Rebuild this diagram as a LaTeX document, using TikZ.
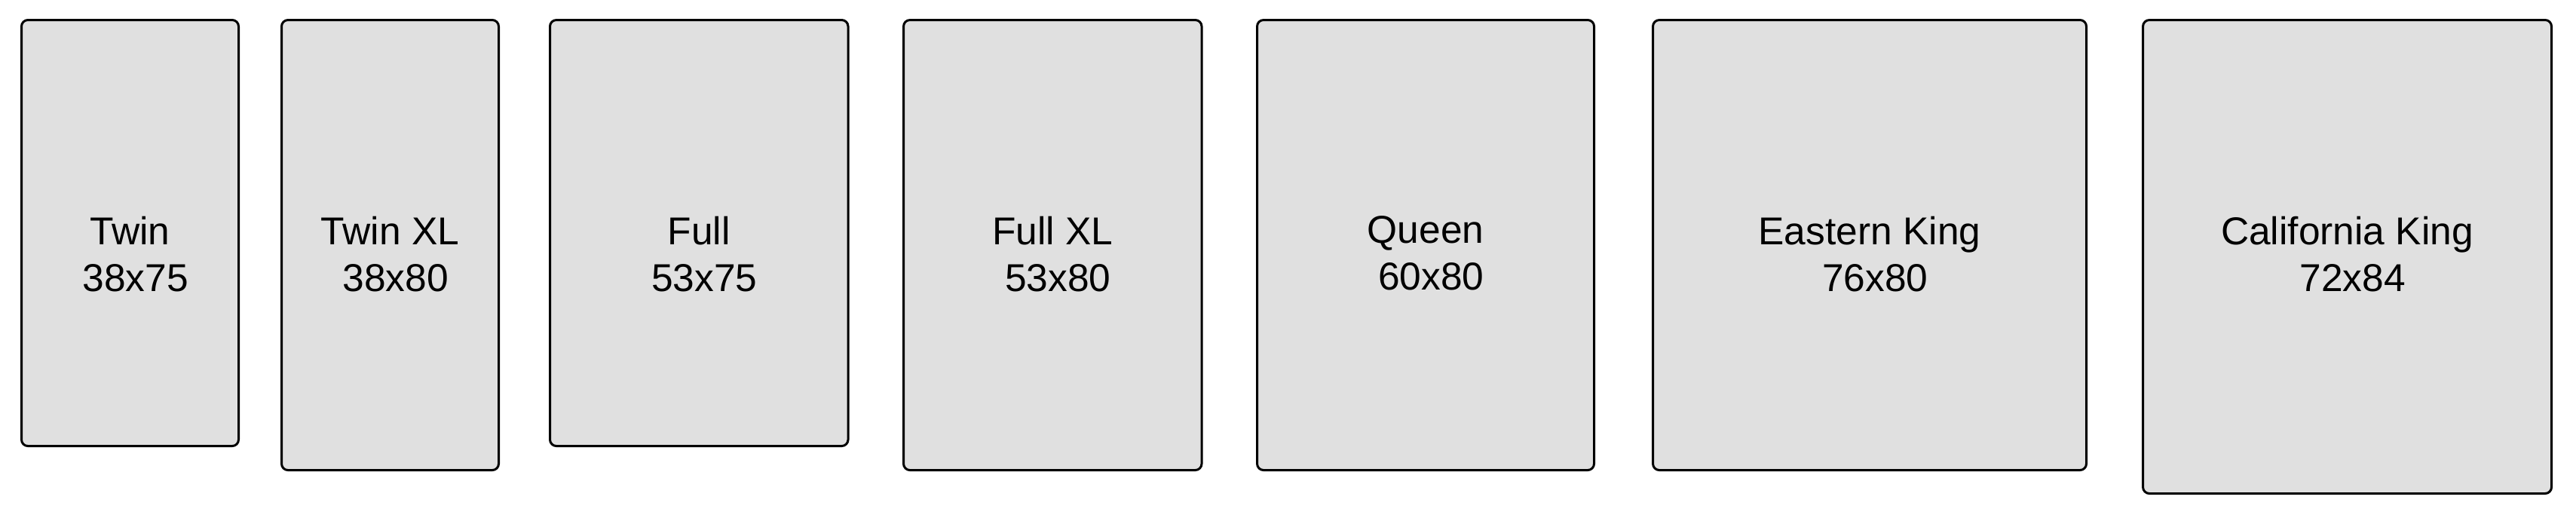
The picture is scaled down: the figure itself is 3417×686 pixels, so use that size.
\documentclass[tikz,border=0pt]{standalone}
\usepackage{fontspec}
\setmainfont{Liberation Sans}
\usetikzlibrary{positioning}
\definecolor{bedgray}{HTML}{E0E0E0}
\tikzset{bed/.style={draw, fill = bedgray, line width = 0.6pt, rounded corners = 1.7pt, anchor = north west}}
\tikzset{bedlabel/.style={align = center, inner sep = 0pt, font = \fontsize{10.3}{12.4}\selectfont}}
\newcommand{\dims}[1]{\mbox{}\ #1}
\def \twinwidth {57.6pt}
\def \fullwidth {79.1pt}
\def \shortheight {113pt}
\def \longheight {119.4pt}
\def \labeldrop {52.2pt}

\begin{document}
\begin{tikzpicture}[x = 0.2pt, y = -0.2pt]
\useasboundingbox (0,0) rectangle (3417,686);

\node (twin) [bed, minimum width = \twinwidth, minimum height = \shortheight] at (27,25) {};

\node (twin_xl) [bed, minimum width = \twinwidth, minimum height = \longheight, below right = 0pt and 10.8pt of twin.north east] {};

\node (full) [bed, minimum width = \fullwidth, minimum height = \shortheight, below right = 0pt and 13pt of twin_xl.north east] {};

\node (full_xl) [bed, minimum width = \fullwidth, minimum height = \longheight, below right = 0pt and 14.1pt of full.north east] {};

\node (queen) [bed, minimum width = 89.4pt, minimum height = \longheight, below right = 0pt and 14.1pt of full_xl.north east] {};

\node (eastern_king) [bed, minimum width = 115pt, minimum height = \longheight, below right = 0pt and 15pt of queen.north east] {};

\node (california_king) [bed, minimum width = 108.4pt, minimum height = 125.6pt, below right = 0pt and 14.4pt of eastern_king.north east] {};

% labels sit at the same height in every bed
\node (twin_lbl) [bedlabel, below = \labeldrop of twin.north] {Twin\\\dims{38x75}};
\node (twin_xl_lbl) [bedlabel, below = \labeldrop of twin_xl.north] {Twin XL\\\dims{38x80}};
\node (full_lbl) [bedlabel, below = \labeldrop of full.north] {Full\\\dims{53x75}};
\node (full_xl_lbl) [bedlabel, below = \labeldrop of full_xl.north] {Full XL\\\dims{53x80}};
\node (queen_lbl) [bedlabel, below = \labeldrop of queen.north] {Queen\\\dims{60x80}};
\node (eastern_king_lbl) [bedlabel, below = \labeldrop of eastern_king.north] {Eastern King\\\dims{76x80}};
\node (california_king_lbl) [bedlabel, below = \labeldrop of california_king.north] {California King\\\dims{72x84}};

\end{tikzpicture}
\end{document}
